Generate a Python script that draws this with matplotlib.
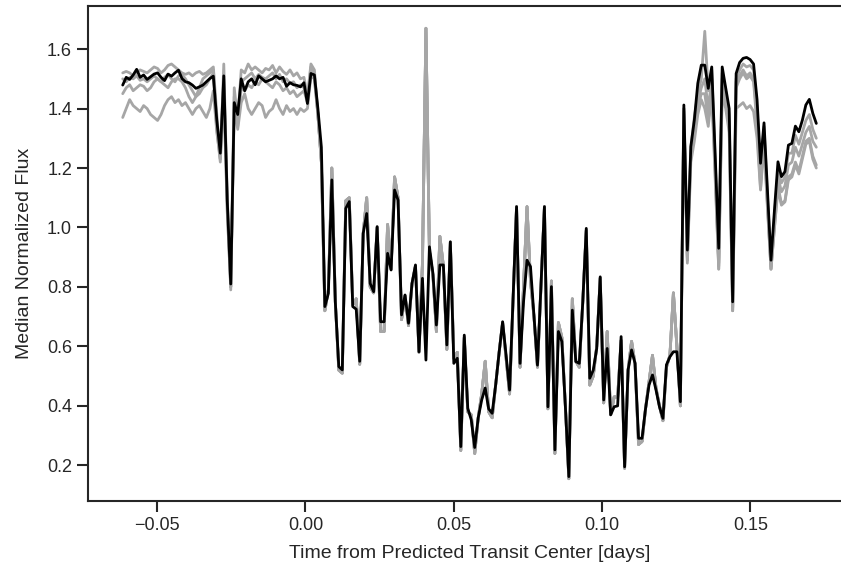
import matplotlib
matplotlib.use("Agg")
import matplotlib.pyplot as plt
import numpy as np
import seaborn as sns

sns.set_style("ticks")
plt.rcParams["font.family"] = ["Liberation Sans", "DejaVu Sans"]

# exposure grid (days from predicted mid-transit)
t_start = -0.0616
cadence = 0.0011749
n_obs = 200

# median-normalised flux, highlighted aperture
flux_main = [
    1.479, 1.505, 1.498, 1.513, 1.532, 1.505, 1.513, 1.498, 1.507, 1.516,
    1.520, 1.505, 1.494, 1.516, 1.509, 1.520, 1.529, 1.501, 1.490, 1.487,
    1.479, 1.468, 1.473, 1.479, 1.490, 1.501, 1.509, 1.36, 1.25, 1.51,
    1.09, 0.81, 1.42, 1.38, 1.50, 1.46, 1.49, 1.50, 1.48, 1.51,
    1.50, 1.49, 1.495, 1.50, 1.51, 1.50, 1.505, 1.475, 1.487, 1.48,
    1.478, 1.473, 1.487, 1.417, 1.518, 1.513, 1.40, 1.27, 0.734, 0.778,
    1.16, 0.75, 0.532, 0.521, 1.064, 1.087, 0.734, 0.725, 0.55, 0.98,
    1.047, 0.812, 0.784, 1.003, 0.683, 0.683, 0.913, 0.857, 1.126, 1.092,
    0.706, 0.773, 0.678, 0.812, 0.874, 0.582, 0.829, 0.554, 0.935, 0.846,
    0.672, 0.874, 0.874, 0.605, 0.952, 0.543, 0.56, 0.263, 0.638, 0.392,
    0.353, 0.26, 0.36, 0.42, 0.46, 0.39, 0.375, 0.47, 0.58, 0.683,
    0.57, 0.453, 0.76, 1.07, 0.543, 0.75, 0.89, 0.868, 0.70, 0.537,
    0.80, 1.07, 0.397, 0.801, 0.252, 0.65, 0.616, 0.40, 0.162, 0.722,
    0.549, 0.543, 0.75, 0.997, 0.493, 0.52, 0.593, 0.834, 0.42, 0.593,
    0.37, 0.397, 0.40, 0.633, 0.195, 0.521, 0.588, 0.543, 0.291, 0.291,
    0.39, 0.47, 0.504, 0.454, 0.397, 0.358, 0.538, 0.565, 0.582, 0.582,
    0.414, 1.412, 0.924, 1.272, 1.361, 1.485, 1.546, 1.546, 1.468, 1.54,
    1.24, 0.93, 1.54, 1.47, 1.40, 0.75, 1.518, 1.555, 1.569, 1.572,
    1.565, 1.55, 1.43, 1.216, 1.352, 1.12, 0.89, 1.06, 1.221, 1.171,
    1.188, 1.277, 1.283, 1.341, 1.322, 1.361, 1.412, 1.431, 1.384, 1.35,
]

# comparison apertures: out-of-transit before ingress (first 56 exposures)
pre_a = [
    1.52, 1.525, 1.52, 1.51, 1.52, 1.53, 1.525, 1.52, 1.53, 1.54,
    1.535, 1.52, 1.53, 1.545, 1.55, 1.54, 1.53, 1.52, 1.515, 1.52,
    1.51, 1.52, 1.525, 1.515, 1.52, 1.53, 1.54, 1.38, 1.23, 1.55,
    1.10, 0.80, 1.47, 1.36, 1.53, 1.52, 1.55, 1.53, 1.54, 1.53,
    1.52, 1.535, 1.53, 1.545, 1.52, 1.54, 1.525, 1.515, 1.53, 1.51,
    1.52, 1.50, 1.505, 1.44, 1.55, 1.53,
]
pre_b = [
    1.50, 1.49, 1.505, 1.50, 1.51, 1.495, 1.50, 1.49, 1.50, 1.51,
    1.50, 1.49, 1.505, 1.515, 1.50, 1.49, 1.51, 1.515, 1.50, 1.48,
    1.46, 1.44, 1.47, 1.50, 1.51, 1.52, 1.53, 1.35, 1.24, 1.50,
    1.08, 0.80, 1.44, 1.35, 1.49, 1.50, 1.51, 1.52, 1.50, 1.515,
    1.505, 1.50, 1.51, 1.52, 1.50, 1.515, 1.49, 1.50, 1.485, 1.49,
    1.47, 1.48, 1.47, 1.43, 1.54, 1.52,
]
pre_c = [
    1.45, 1.47, 1.48, 1.46, 1.47, 1.48, 1.475, 1.46, 1.47, 1.49,
    1.50, 1.49, 1.48, 1.47, 1.49, 1.50, 1.50, 1.49, 1.47, 1.44,
    1.42, 1.44, 1.45, 1.47, 1.48, 1.50, 1.52, 1.33, 1.22, 1.47,
    1.06, 0.79, 1.42, 1.34, 1.47, 1.46, 1.48, 1.47, 1.49, 1.48,
    1.50, 1.49, 1.48, 1.47, 1.49, 1.48, 1.46, 1.47, 1.45, 1.46,
    1.44, 1.45, 1.46, 1.42, 1.52, 1.50,
]
pre_d = [
    1.37, 1.40, 1.43, 1.41, 1.40, 1.39, 1.41, 1.40, 1.38, 1.37,
    1.36, 1.38, 1.41, 1.43, 1.44, 1.42, 1.43, 1.41, 1.42, 1.40,
    1.38, 1.40, 1.41, 1.39, 1.37, 1.40, 1.46, 1.32, 1.23, 1.45,
    1.05, 0.80, 1.40, 1.33, 1.42, 1.45, 1.40, 1.38, 1.40, 1.42,
    1.41, 1.37, 1.39, 1.40, 1.43, 1.40, 1.38, 1.41, 1.39, 1.40,
    1.38, 1.40, 1.39, 1.40, 1.51, 1.50,
]

# in transit the comparison apertures agree with each other (105 exposures)
transit_cmp = [
    1.38, 1.22, 0.72, 0.79, 1.20, 0.75, 0.52, 0.51, 1.09, 1.10,
    0.74, 0.76, 0.54, 0.98, 1.10, 0.80, 0.78, 1.00, 0.65, 0.65,
    1.01, 0.86, 1.17, 1.10, 0.69, 0.77, 0.67, 0.81, 0.87, 0.58,
    0.88, 1.67, 0.92, 0.84, 0.65, 0.97, 0.87, 0.59, 0.95, 0.56,
    0.58, 0.25, 0.63, 0.38, 0.37, 0.24, 0.36, 0.44, 0.55, 0.38,
    0.36, 0.47, 0.58, 0.68, 0.56, 0.44, 0.76, 1.07, 0.53, 0.80,
    1.07, 0.82, 0.70, 0.53, 0.80, 1.07, 0.39, 0.82, 0.24, 0.68,
    0.63, 0.40, 0.155, 0.76, 0.55, 0.53, 0.75, 0.99, 0.47, 0.50,
    0.60, 0.83, 0.41, 0.65, 0.37, 0.43, 0.43, 0.62, 0.19, 0.52,
    0.617, 0.54, 0.27, 0.28, 0.39, 0.48, 0.57, 0.46, 0.40, 0.35,
    0.53, 0.57, 0.78, 0.60, 0.40,
]

# after egress (last 39 exposures)
post_a = [
    1.40, 0.90, 1.27, 1.37, 1.45, 1.50, 1.66, 1.46, 1.53, 1.22,
    0.88, 1.52, 1.46, 1.38, 0.73, 1.50, 1.53, 1.55, 1.54, 1.545,
    1.53, 1.40, 1.18, 1.34, 1.10, 0.87, 1.04, 1.19, 1.15, 1.17,
    1.25, 1.25, 1.31, 1.28, 1.32, 1.36, 1.38, 1.33, 1.30,
]
post_b = [
    1.40, 0.89, 1.25, 1.33, 1.42, 1.47, 1.50, 1.40, 1.50, 1.20,
    0.87, 1.50, 1.44, 1.36, 0.72, 1.49, 1.51, 1.53, 1.51, 1.52,
    1.50, 1.37, 1.15, 1.32, 1.08, 0.86, 1.02, 1.17, 1.12, 1.14,
    1.21, 1.22, 1.27, 1.24, 1.28, 1.32, 1.34, 1.29, 1.27,
]
post_c = [
    1.39, 0.89, 1.24, 1.31, 1.40, 1.45, 1.45, 1.36, 1.48, 1.18,
    0.86, 1.48, 1.42, 1.34, 0.72, 1.47, 1.50, 1.52, 1.50, 1.51,
    1.49, 1.34, 1.13, 1.30, 1.07, 0.86, 1.00, 1.14, 1.08, 1.09,
    1.17, 1.18, 1.22, 1.19, 1.24, 1.29, 1.30, 1.24, 1.21,
]
post_d = [
    1.38, 0.88, 1.22, 1.29, 1.38, 1.43, 1.40, 1.34, 1.45, 1.16,
    0.86, 1.45, 1.40, 1.32, 0.72, 1.40, 1.41, 1.42, 1.40, 1.41,
    1.39, 1.30, 1.126, 1.28, 1.06, 0.86, 1.00, 1.13, 1.075, 1.086,
    1.16, 1.17, 1.21, 1.18, 1.23, 1.28, 1.29, 1.23, 1.20,
]

time = t_start + cadence * np.arange(n_obs)
comparisons = [pre + transit_cmp + post for pre, post in
               [(pre_a, post_a), (pre_b, post_b), (pre_c, post_c), (pre_d, post_d)]]

fig = plt.figure(figsize=(8.41, 5.69), dpi=100)
ax = fig.add_axes([88 / 841, 68.3 / 569, 763 / 841, 495 / 569])

for flux in comparisons:
    ax.plot(time, flux, color="#a6a6a6", lw=2.0)
ax.plot(time, flux_main, color="black", lw=2.0)

ax.set_xlim(-0.0733, 0.1839)
ax.set_ylim(0.081, 1.746)
ax.set_xticks([-0.05, 0.0, 0.05, 0.10, 0.15])
ax.set_yticks([0.2, 0.4, 0.6, 0.8, 1.0, 1.2, 1.4, 1.6])
ax.tick_params(length=8, width=1.5, labelsize=13, colors="#262626")
for sp in ax.spines.values():
    sp.set_linewidth(1.5)
    sp.set_color("#262626")

ax.set_xlabel("Time from Predicted Transit Center [days]", fontsize=14,
              color="#262626", labelpad=8)
ax.set_ylabel("Median Normalized Flux", fontsize=14, color="#262626",
              labelpad=10)

fig.savefig("out.png", dpi=100)
